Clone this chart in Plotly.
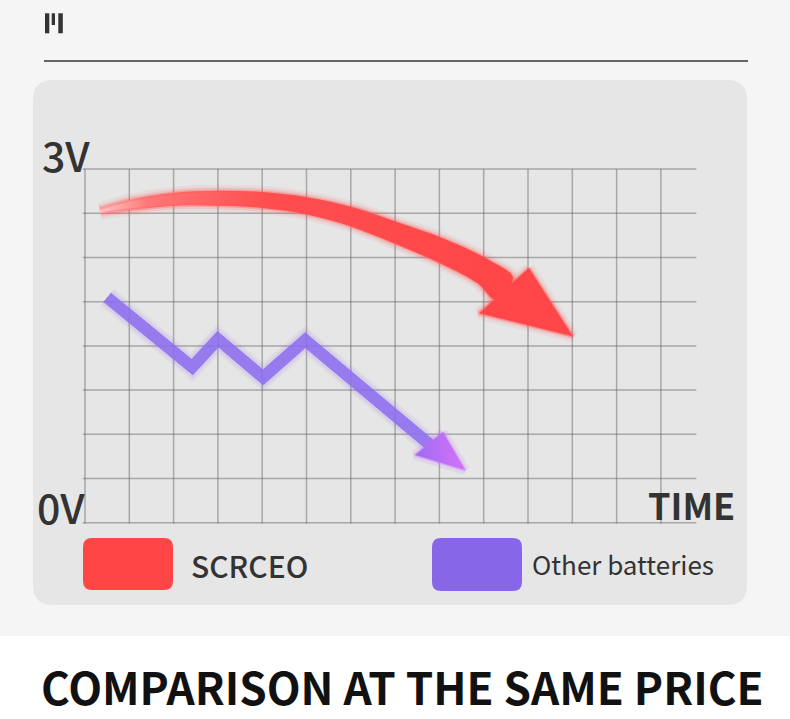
import numpy as np
import plotly.graph_objects as go

W, H = 790, 719

# grid of the chart (in grid units, one cell = one unit)
grid_x = list(range(14))
grid_y = list(range(9))
grid_right = 13.8

# SCRCEO: centre line of the curved arrow and its width (px) along the way
red_x = [0.34, 1.02, 2.03, 3.00, 4.00, 5.01, 6.03, 7.04, 8.01, 9.01, 9.46]
red_y = [7.05, 7.19, 7.32, 7.34, 7.30, 7.17, 6.92, 6.55, 6.17, 5.67, 5.30]
red_w = [5, 10, 13, 15, 16, 17, 19, 21, 24, 26, 28]
red_head_x = [10.02, 11.01, 8.90]
red_head_y = [5.76, 4.22, 4.74]

# Other batteries: zig-zag line
purple_x = [0.50, 2.42, 3.00, 4.02, 4.97, 7.79]
purple_y = [5.10, 3.52, 4.15, 3.29, 4.13, 1.76]
purple_head_x = [8.08, 8.58, 7.45]
purple_head_y = [2.05, 1.19, 1.53]

legend_names = ["SCRCEO", "Other batteries"]
legend_colors = ["#ff4545", "#8767e8"]

# pixel size of one grid unit, and where grid 0,0 sits
UX, UY = 44.3, 44.2
X0, Y0 = 85, 522.7


def P(px, py):
    return px / W, 1 - py / H


def rrect(x0, y0, x1, y1, r):
    pts = [("M", x0 + r, y0), ("L", x1 - r, y0), ("Q", x1, y0, x1, y0 + r),
           ("L", x1, y1 - r), ("Q", x1, y1, x1 - r, y1), ("L", x0 + r, y1),
           ("Q", x0, y1, x0, y1 - r), ("L", x0, y0 + r), ("Q", x0, y0, x0 + r, y0)]
    s = ""
    for p in pts:
        c = p[1:]
        s += p[0] + " " + " ".join("%.5f,%.5f" % P(c[i], c[i + 1]) for i in range(0, len(c), 2)) + " "
    return s + "Z"


fig = go.Figure()

# grid lines
gx, gy = [], []
for y in grid_y:
    gx += [-0.05, grid_right, None]
    gy += [y, y, None]
for x in grid_x:
    gx += [x, x, None]
    gy += [-0.02, 8, None]
fig.add_trace(go.Scatter(x=gx, y=gy, mode="lines", hoverinfo="skip",
                         line=dict(color="rgba(105,105,105,0.5)", width=1.5)))

# red shaft as a tapered band around its centre line
px = np.array(red_x) * UX
py = np.array(red_y) * UY
tx, ty = np.gradient(px), np.gradient(py)
n = np.hypot(tx, ty)
nx, ny = -ty / n, tx / n
hw = np.array(red_w) / 2
band_x = list((px + nx * hw) / UX) + list(((px - nx * hw) / UX)[::-1])
band_y = list((py + ny * hw) / UY) + list(((py - ny * hw) / UY)[::-1])
head_x = red_head_x + red_head_x[:1]
head_y = red_head_y + red_head_y[:1]

# soft halo first (fake blur), then the solid shapes
for wd, a in [(12, 0.08), (7, 0.15)]:
    fig.add_trace(go.Scatter(x=band_x, y=band_y, mode="lines", line_shape="spline", hoverinfo="skip",
                             line=dict(color="rgba(255,75,75,%s)" % a, width=wd)))
    fig.add_trace(go.Scatter(x=head_x, y=head_y, mode="lines", hoverinfo="skip",
                             line=dict(color="rgba(255,75,75,%s)" % a, width=wd)))
fig.add_trace(go.Scatter(x=band_x, y=band_y, mode="lines", fill="toself", line_shape="spline",
                         fillgradient=dict(type="horizontal",
                                           colorscale=[[0, "#ffc4c4"], [0.12, "#ff7777"], [0.4, "#ff4e50"], [1, "#ff4648"]]),
                         line=dict(color="rgba(255,80,80,0.3)", width=3), hoverinfo="skip"))
fig.add_trace(go.Scatter(x=head_x, y=head_y, mode="lines", fill="toself", fillcolor="#ff4648",
                         line=dict(color="rgba(255,70,72,0.4)", width=3), hoverinfo="skip"))

# purple zig-zag
for wd, a in [(22, 0.07), (17, 0.12)]:
    fig.add_trace(go.Scatter(x=purple_x, y=purple_y, mode="lines", hoverinfo="skip",
                             line=dict(color="rgba(140,105,240,%s)" % a, width=wd)))
fig.add_trace(go.Scatter(x=purple_x, y=purple_y, mode="lines", hoverinfo="skip", opacity=0.85,
                         line=dict(color="#8d6cf0", width=12)))
ph_x = purple_head_x + purple_head_x[:1]
ph_y = purple_head_y + purple_head_y[:1]
fig.add_trace(go.Scatter(x=ph_x, y=ph_y, mode="lines", hoverinfo="skip",
                         line=dict(color="rgba(200,110,245,0.15)", width=9)))
fig.add_trace(go.Scatter(x=ph_x, y=ph_y, mode="lines", fill="toself",
                         fillgradient=dict(type="horizontal", colorscale=[[0, "#9a6cf2"], [1, "#d873fa"]]),
                         line=dict(color="rgba(190,110,245,0.35)", width=3), hoverinfo="skip"))

shapes = [
    dict(type="rect", xref="paper", yref="paper", x0=0, x1=1, y0=P(0, 636)[1], y1=1,
         fillcolor="#f5f5f5", line_width=0, layer="below"),
    dict(type="path", xref="paper", yref="paper", path=rrect(33, 80, 747, 605, 20),
         fillcolor="#e6e6e6", line_width=0, layer="below"),
    dict(type="line", xref="paper", yref="paper", x0=P(44, 0)[0], x1=P(748, 0)[0],
         y0=P(0, 61)[1], y1=P(0, 61)[1], line=dict(color="#333333", width=1.5)),
    dict(type="path", xref="paper", yref="paper", path=rrect(83, 538, 173, 590, 9),
         fillcolor=legend_colors[0], line_width=0),
    dict(type="path", xref="paper", yref="paper", path=rrect(432, 538, 522, 591, 9),
         fillcolor=legend_colors[1], line_width=0),
]
for bx0, bx1, by1 in [(45, 49.3, 33.3), (51.7, 55, 25), (58.3, 62.8, 33.3)]:
    shapes.append(dict(type="rect", xref="paper", yref="paper", x0=P(bx0, 0)[0], x1=P(bx1, 0)[0],
                       y0=P(0, by1)[1], y1=P(0, 13.3)[1], fillcolor="#333333", line_width=0))

font = "Noto Sans CJK SC"


def label(text, x, y, size, xanchor="left", weight=500, color="#333333"):
    return dict(text=text, x=P(x, y)[0], y=P(x, y)[1], xref="paper", yref="paper",
                xanchor=xanchor, yanchor="middle", showarrow=False,
                font=dict(family=font, size=size, color=color, weight=weight))


annotations = [
    label("3V", 40, 154, 41),
    label("0V", 35, 506, 41),
    label("TIME", 737, 504, 36, xanchor="right", weight=600),
    label(legend_names[0], 189, 565, 30),
    label(legend_names[1], 530, 563, 26, weight=400),
    label("COMPARISON AT THE SAME PRICE", 402, 686, 44, xanchor="center", weight=700, color="#111111"),
]

fig.update_layout(
    width=W, height=H, margin=dict(l=0, r=0, t=0, b=0),
    paper_bgcolor="#ffffff", plot_bgcolor="rgba(0,0,0,0)",
    showlegend=False, shapes=shapes, annotations=annotations,
    xaxis=dict(range=[(0 - X0) / UX, (W - X0) / UX], visible=False, fixedrange=True),
    yaxis=dict(range=[(Y0 - H) / UY, Y0 / UY], visible=False, fixedrange=True),
)

fig.write_html("out.html", config={"displayModeBar": False},
               post_script="document.body.style.margin='0px';")
